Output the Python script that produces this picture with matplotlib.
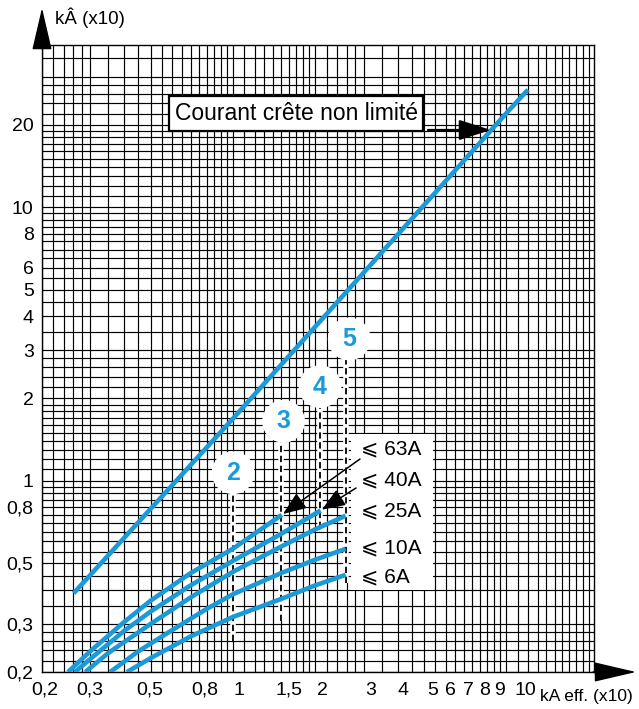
import numpy as np
from matplotlib import pyplot as plt
from matplotlib.patches import Rectangle
from matplotlib.transforms import ScaledTranslation

plt.rcParams['font.family'] = ['Liberation Sans', 'DejaVu Sans']

BLEU = '#1a9bd7'

# droite du courant crête non limité
x_nonlim = [0.261, 1.0, 10.0, 11.98]
y_nonlim = [0.388, 1.69, 22.1, 26.9]

# courbes de limitation par calibre
calibres = ['⩽ 63A', '⩽ 40A', '⩽ 25A', '⩽ 10A', '⩽ 6A']
x_63 = [0.249, 0.3, 0.4, 0.5, 0.7, 1.0, 1.507]
y_63 = [0.2, 0.238, 0.305, 0.365, 0.46, 0.565, 0.751]
x_40 = [0.264, 0.3, 0.4, 0.5, 0.7, 1.0, 1.5, 2.09]
y_40 = [0.2, 0.223, 0.283, 0.333, 0.415, 0.51, 0.64, 0.779]
x_25 = [0.288, 0.35, 0.5, 0.7, 1.0, 1.5, 2.0, 2.58]
y_25 = [0.2, 0.235, 0.30, 0.375, 0.465, 0.575, 0.665, 0.745]
x_10 = [0.355, 0.45, 0.6, 0.8, 1.0, 1.5, 2.0, 2.58]
y_10 = [0.2, 0.238, 0.285, 0.34, 0.385, 0.46, 0.515, 0.564]
x_6 = [0.409, 0.5, 0.7, 1.0, 1.5, 2.0, 2.58]
y_6 = [0.2, 0.225, 0.27, 0.318, 0.37, 0.415, 0.453]

# repères numérotés (x du pointillé, y bas, y haut, position du cercle)
reperes = ['2', '3', '4', '5']
rep_x = [1.0, 1.5, 2.08, 2.58]
rep_ybas = [0.26, 0.308, 0.673, 0.424]
rep_yhaut = [0.95, 1.45, 2.0, 2.9]
cercle_x = [1.0, 1.53, 2.08, 2.66]
cercle_y = [1.07, 1.65, 2.21, 3.3]

xticks = [0.2, 0.3, 0.5, 0.8, 1, 1.5, 2, 3, 4, 5, 6, 7, 8, 9, 10]
xlabels = ['0,2', '0,3', '0,5', '0,8', '1', '1,5', '2', '3', '4', '5', '6', '7', '8', '9', '10']
# décalage (pixels) des étiquettes comme sur l'abaque d'origine
xlabel_dx = [3, 0, -1, -2, 6, 8, 7, 7, 5, 8, 5, 4, 5, 6, 19]
yticks = [0.2, 0.3, 0.5, 0.8, 1, 2, 3, 4, 5, 6, 8, 10, 20]
ylabels = ['0,2', '0,3', '0,5', '0,8', '1', '2', '3', '4', '5', '6', '8', '10', '20']


def grille(debut, fin):
    sub = list(np.arange(1.0, 2.0, 0.1)) + list(np.arange(2.0, 3.0, 0.2)) + list(np.arange(3.0, 10.0, 0.5))
    vals = []
    for dec in [0.1, 1, 10, 100]:
        for s in sub:
            v = s * dec
            if debut <= v <= fin:
                vals.append(v)
    return vals


def px(x, y):
    # pixels de l'image -> fraction des axes
    return ((x - 42) / 552, (672 - y) / 627)


fig = plt.figure(figsize=(6.39, 7.09), dpi=100)
ax = fig.add_axes([42 / 639, 37 / 709, 552 / 639, 627 / 709])
ax.set_xscale('log')
ax.set_yscale('log')
ax.set_xlim(0.2, 20.9)
ax.set_ylim(0.2, 39.2)

for v in grille(0.2, 20.9):
    ax.axvline(v, color='black', lw=0.85, zorder=0)
for v in grille(0.2, 39.2):
    ax.axhline(v, color='black', lw=0.85, zorder=0)

ax.minorticks_off()
ax.set_xticks(xticks)
ax.set_xticklabels(xlabels)
ax.set_yticks(yticks)
ax.set_yticklabels(ylabels)
ax.tick_params(length=0, labelsize=14, pad=6)
ax.tick_params(axis='x', pad=7)
for lab, dx in zip(ax.get_xticklabels(), xlabel_dx):
    lab.set_transform(lab.get_transform() + ScaledTranslation(dx / 100, 0, fig.dpi_scale_trans))
for s in ax.spines.values():
    s.set_linewidth(1.0)

# fond blanc de la légende des calibres
ax.add_patch(Rectangle(px(351, 590), 82 / 552, 156 / 627, transform=ax.transAxes,
                       facecolor='white', edgecolor='none', zorder=1))

# pointillés des repères
for xr, yb, yh in zip(rep_x, rep_ybas, rep_yhaut):
    ax.plot([xr, xr], [yb, yh], color='white', lw=4, zorder=2, solid_capstyle='butt')
    ax.plot([xr, xr], [yb, yh], color='black', lw=1.3, ls=(0, (3.5, 2)), zorder=3)

ax.plot(x_nonlim, y_nonlim, color=BLEU, lw=3.3, zorder=4, solid_capstyle='butt')
for xs, ys in [(x_63, y_63), (x_40, y_40), (x_25, y_25), (x_10, y_10), (x_6, y_6)]:
    ax.plot(xs, ys, color=BLEU, lw=3.3, zorder=4, solid_capstyle='butt')

# cercles numérotés
ax.scatter(cercle_x, cercle_y, s=950, color='white', zorder=5, edgecolors='none')
for t, cx, cy in zip(reperes, cercle_x, cercle_y):
    ax.text(cx, cy, t, color=BLEU, fontsize=18, fontweight='bold', ha='center', va='center', zorder=6)

# légende des calibres
for t, yp in zip(calibres, [449, 480, 511, 548, 577]):
    ax.text(*px(361, yp), t, transform=ax.transAxes, fontsize=15, va='center', ha='left', zorder=6)

ax.annotate('', xy=(x_63[-1], y_63[-1]), xytext=px(360, 459), textcoords='axes fraction',
            arrowprops=dict(arrowstyle='-|>,head_length=0.9,head_width=0.35', mutation_scale=16,
                            color='black', lw=1.1, shrinkA=0, shrinkB=1), zorder=6)
ax.annotate('', xy=(x_40[-1], y_40[-1]), xytext=px(356, 488), textcoords='axes fraction',
            arrowprops=dict(arrowstyle='-|>,head_length=0.9,head_width=0.35', mutation_scale=16,
                            color='black', lw=1.1, shrinkA=0, shrinkB=1), zorder=6)

# cadre du courant non limité
ax.text(*px(296, 113.5), 'Courant crête non limité', transform=ax.transAxes, fontsize=16.5,
        ha='center', va='center', zorder=7,
        bbox=dict(boxstyle='square,pad=0.25', facecolor='white', edgecolor='black', lw=1.6))
ax.annotate('', xy=px(491, 130), xytext=px(428, 130), xycoords='axes fraction',
            arrowprops=dict(arrowstyle='-|>,head_length=1.1,head_width=0.35', mutation_scale=18,
                            color='black', lw=1.6, shrinkA=0, shrinkB=0), zorder=7)

# flèches des axes
ax.annotate('', xy=px(42, 8), xytext=px(42, 46), xycoords='axes fraction', annotation_clip=False,
            arrowprops=dict(arrowstyle='-|>,head_length=1.5,head_width=0.35', mutation_scale=18,
                            color='black', lw=1.0, shrinkA=0, shrinkB=0))
ax.annotate('', xy=px(636, 672), xytext=px(593, 672), xycoords='axes fraction', annotation_clip=False,
            arrowprops=dict(arrowstyle='-|>,head_length=1.5,head_width=0.35', mutation_scale=18,
                            color='black', lw=1.0, shrinkA=0, shrinkB=0))

ax.text(*px(55, 18), 'kÂ (x10)', transform=ax.transAxes, fontsize=13.5, ha='left', va='center')
ax.text(*px(540, 696), 'kA eff. (x10)', transform=ax.transAxes, fontsize=12.5, ha='left', va='center')

fig.savefig('out.png', dpi=100)
